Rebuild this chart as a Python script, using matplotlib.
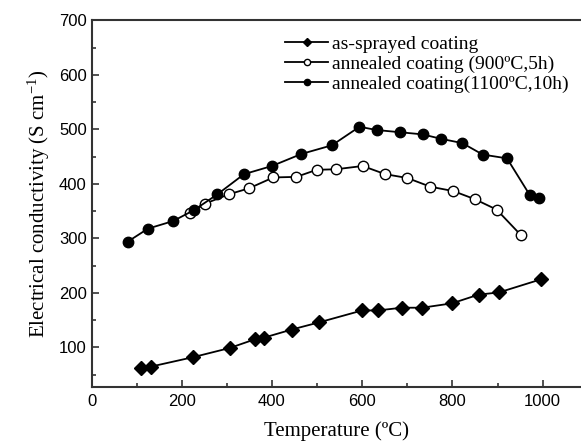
import matplotlib
matplotlib.use("Agg")
import matplotlib.pyplot as plt
from matplotlib.ticker import MultipleLocator

# as-sprayed coating
t_sprayed = [110, 132, 224, 306, 362, 382, 444, 504, 600, 635, 688, 733, 799, 858, 903, 996]
s_sprayed = [63, 65, 82, 99, 115, 118, 133, 146, 168, 168, 173, 173, 181, 197, 201, 225]

# annealed 900 C, 5h
t_900 = [218, 252, 304, 349, 403, 454, 499, 542, 601, 651, 700, 751, 802, 850, 898, 952]
s_900 = [346, 364, 381, 392, 412, 413, 426, 427, 433, 418, 411, 395, 387, 372, 353, 306]

# annealed 1100 C, 10h
t_1100 = [80, 125, 181, 227, 279, 338, 400, 465, 533, 594, 632, 683, 734, 774, 822, 867, 921, 972, 992]
s_1100 = [294, 318, 332, 352, 381, 418, 433, 455, 471, 505, 499, 495, 491, 483, 475, 454, 447, 379, 374]

labels = ["as-sprayed coating",
          "annealed coating (900ºC,5h)",
          "annealed coating(1100ºC,10h)"]

plt.rcParams["mathtext.fontset"] = "custom"
plt.rcParams["mathtext.rm"] = "Liberation Serif"
plt.rcParams["mathtext.it"] = "Liberation Serif:italic"

fig = plt.figure(figsize=(5.81, 4.43), dpi=100)
ax = fig.add_axes([0.1575, 0.127, 0.8425, 0.8268])

ax.plot(t_sprayed, s_sprayed, color="black", lw=1.3, marker="D", ms=7,
        mfc="black", mec="black", label=labels[0])
ax.plot(t_900, s_900, color="black", lw=1.3, marker="o", ms=7.5,
        mfc="white", mec="black", mew=1.0, label=labels[1])
ax.plot(t_1100, s_1100, color="black", lw=1.3, marker="o", ms=7.5,
        mfc="black", mec="black", label=labels[2])

ax.set_xlim(0, 1085)
ax.set_ylim(28, 700)
ax.xaxis.set_major_locator(MultipleLocator(200))
ax.xaxis.set_minor_locator(MultipleLocator(100))
ax.yaxis.set_major_locator(MultipleLocator(100))
ax.yaxis.set_minor_locator(MultipleLocator(50))
ax.tick_params(which="both", direction="in", top=False, right=False,
               color="#333333", labelsize=12)
ax.tick_params(axis="x", pad=5)
ax.tick_params(which="major", length=5, width=1.2)
ax.tick_params(which="minor", length=3, width=1.2)
for lab in ax.get_xticklabels() + ax.get_yticklabels():
    lab.set_fontfamily("Liberation Sans")

ax.spines["right"].set_visible(False)
for sp in ["left", "bottom", "top"]:
    ax.spines[sp].set_linewidth(1.5)
    ax.spines[sp].set_color("#333333")

ax.set_xlabel("Temperature (ºC)", fontfamily="Liberation Serif", fontsize=15, labelpad=9)
ax.set_ylabel(r"Electrical conductivity (S cm$^{\mathregular{-1}}$)",
              fontfamily="Liberation Serif", fontsize=15, labelpad=5)

leg = ax.legend(loc="upper left", bbox_to_anchor=(0.36, 1.008), frameon=False,
                prop={"family": "Liberation Serif", "size": 14},
                handlelength=2.2, handletextpad=0.2, labelspacing=0.12,
                markerscale=0.6)

fig.savefig("out.png", dpi=100)
